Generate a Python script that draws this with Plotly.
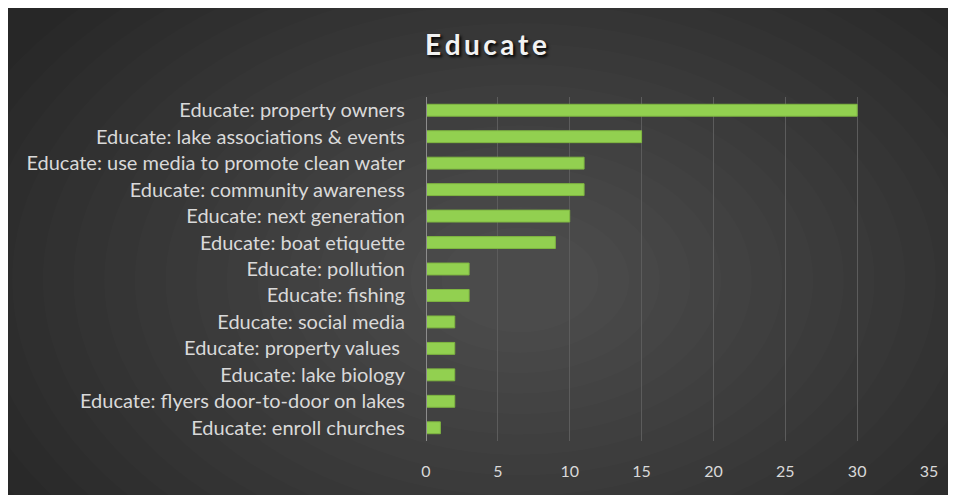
import plotly.graph_objects as go

categories = [
    "Educate: property owners",
    "Educate: lake associations & events",
    "Educate: use media to promote clean water",
    "Educate: community awareness",
    "Educate: next generation",
    "Educate: boat etiquette",
    "Educate: pollution",
    "Educate: fishing",
    "Educate: social media",
    "Educate: property values ",
    "Educate: lake biology",
    "Educate: flyers door-to-door on lakes",
    "Educate: enroll churches",
]
values = [30, 15, 11, 11, 10, 9, 3, 3, 2, 2, 2, 2, 1]
x_ticks = [0, 5, 10, 15, 20, 25, 30, 35]
title_text = "Educate"

# page body has an 8px margin, so the figure is drawn 8px smaller
W, H = 948, 487
L, R, T, B = 418, 27, 89, 54
PW, PH = W - L - R, H - T - B


def px(x):
    return (x - L) / PW


def py(y):
    return (H - B - y) / PH


shapes = []
# radial-ish light centre
cx, cy = 512, 272
n = 18
for i in range(n):
    f = 1 - 0.92 * i / n
    rx, ry = 600 * f, 400 * f
    shapes.append(dict(type="circle", xref="paper", yref="paper", layer="below",
                       x0=px(cx - rx), x1=px(cx + rx), y0=py(cy + ry), y1=py(cy - ry),
                       fillcolor="rgba(255,255,255,0.0118)", line=dict(width=0)))

fig = go.Figure()
fig.add_trace(go.Bar(
    y=categories, x=values, orientation="h",
    marker=dict(color="#92D050", line=dict(color="#7FB640", width=1)),
    hoverinfo="x+y",
))

fig.update_layout(
    width=W, height=H,
    margin=dict(l=L, r=R, t=T, b=B),
    paper_bgcolor="#272727",
    plot_bgcolor="rgba(0,0,0,0)",
    shapes=shapes,
    bargap=0.55,
    showlegend=False,
    title=dict(text="\u2009".join(title_text), x=478 / W, xanchor="center",
               y=1 - 37 / H, yanchor="middle",
               font=dict(family="Lato", size=28, color="#f2f2f2",
                         weight="bold", shadow="2px 2px 3px #000000")),
    font=dict(family="Lato", color="#d9d9d9"),
)
fig.update_xaxes(range=[0, 35], tickvals=x_ticks, showgrid=True,
                 gridcolor="#5c5c5c", gridwidth=1, zeroline=False,
                 ticks="outside", ticklen=16, tickcolor="rgba(0,0,0,0)",
                 tickfont=dict(size=16, color="#d9d9d9"), fixedrange=True)
fig.update_yaxes(categoryorder="array", categoryarray=categories[::-1],
                 autorange=False, range=[-0.5, len(categories) - 0.5],
                 showline=False, ticks="outside", ticklen=16,
                 tickcolor="rgba(0,0,0,0)",
                 tickfont=dict(size=20, color="#d9d9d9"), fixedrange=True)
# zero axis line
fig.add_vline(x=0, line=dict(color="#8c8c8c", width=2), layer="above")

fig.write_html("out.html")
